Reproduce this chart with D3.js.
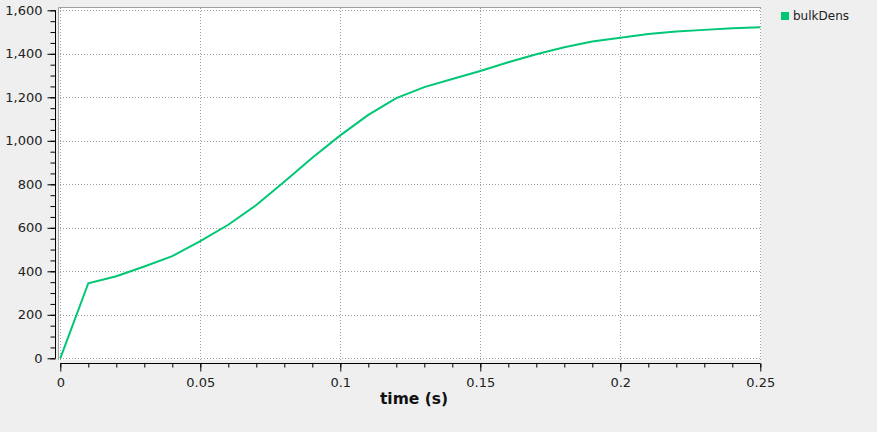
<!DOCTYPE html>
<html>
<head>
<meta charset="utf-8">
<script src="https://cdn.jsdelivr.net/npm/d3@7"></script>
<style>
  body { margin: 0; background: #efefef; }
  svg { display: block; font-family: "DejaVu Sans", sans-serif; }
</style>
</head>
<body>
<svg id="chart" width="877" height="432"></svg>
<script>
// data
const times = [0, 0.01, 0.02, 0.03, 0.04, 0.05, 0.06, 0.07, 0.08, 0.09, 0.10, 0.11, 0.12,
               0.13, 0.14, 0.15, 0.16, 0.17, 0.18, 0.19, 0.20, 0.21, 0.22, 0.23, 0.24, 0.25];
const bulkDens = [0, 345, 377, 422, 470, 539, 614, 705, 812, 922, 1025, 1119, 1196,
                  1247, 1284, 1321, 1361, 1398, 1430, 1457, 1474, 1491, 1503, 1510, 1517, 1522];
const xTicks = [0, 0.05, 0.1, 0.15, 0.2, 0.25];
const yTicks = [0, 200, 400, 600, 800, 1000, 1200, 1400, 1600];
const seriesName = "bulkDens";
const xTitle = "time (s)";

const svg = d3.select("#chart");
const x = d3.scaleLinear().domain([0, 0.25]).range([60.3, 760.3]);
const y = d3.scaleLinear().domain([0, 1600]).range([358.3, 10.3]);

// plot background + frame
svg.append("rect").attr("x", 58).attr("y", 7).attr("width", 703).attr("height", 353).attr("fill", "#fff");
svg.append("path").attr("d", "M58.5,360V7.5H761").attr("fill", "none").attr("stroke", "#a0a0a0");

// grid
const grid = svg.append("g").attr("stroke", "#a0a0a0").attr("stroke-dasharray", "1,2");
grid.selectAll(".gy").data(yTicks).enter().append("line")
  .attr("x1", 60).attr("x2", 761)
  .attr("y1", d => Math.round(y(d)) + 0.5).attr("y2", d => Math.round(y(d)) + 0.5);
grid.selectAll(".gx").data(xTicks).enter().append("line")
  .attr("y1", 8).attr("y2", 360)
  .attr("x1", d => Math.round(x(d)) + 0.5).attr("x2", d => Math.round(x(d)) + 0.5);

// y axis
const yAxis = svg.append("g").attr("transform", "translate(55.5,0)");
yAxis.call(d3.axisLeft(y).ticks(32).tickSize(5).tickFormat(""));
yAxis.call(g => g.select(".domain").remove());
const yMajor = svg.append("g").attr("transform", "translate(55.5,0)")
  .call(d3.axisLeft(y).tickValues(yTicks).tickSize(8).tickPadding(5).tickFormat(d3.format(",")));
[yAxis, yMajor].forEach(g => {
  g.selectAll(".tick line").attr("stroke", "#000");
  g.select(".domain").attr("stroke", "#000").attr("d", "M0," + y(1600) + "V" + y(0));
});
yMajor.selectAll("text").attr("font-size", 13).attr("fill", "#222").attr("font-family", "DejaVu Sans");

// x axis
const xAxis = svg.append("g").attr("transform", "translate(0,363.5)");
xAxis.call(d3.axisBottom(x).ticks(25).tickSize(4).tickFormat(""));
xAxis.call(g => g.select(".domain").remove());
const xMajor = svg.append("g").attr("transform", "translate(0,363.5)")
  .call(d3.axisBottom(x).tickValues(xTicks).tickSize(8).tickPadding(6).tickFormat(d3.format("")));
[xAxis, xMajor].forEach(g => {
  g.selectAll(".tick line").attr("stroke", "#000");
  g.select(".domain").attr("stroke", "#000").attr("d", "M" + x(0) + ",0H" + x(0.25));
});
xMajor.selectAll("text").attr("font-size", 13).attr("fill", "#222").attr("font-family", "DejaVu Sans");

svg.append("text").attr("x", 414).attr("y", 404).attr("text-anchor", "middle")
  .attr("font-size", 15.5).attr("font-weight", "bold").attr("fill", "#111").text(xTitle);

// series line
const line = d3.line().x((d, i) => x(times[i])).y(d => y(d));
svg.append("path").datum(bulkDens).attr("d", line)
  .attr("fill", "none").attr("stroke", "#00c775").attr("stroke-width", 2);

// legend
svg.append("rect").attr("x", 781).attr("y", 12).attr("width", 8).attr("height", 8).attr("fill", "#00c775");
svg.append("text").attr("x", 793).attr("y", 20).attr("font-size", 12).attr("fill", "#222").text(seriesName);
</script>
</body>
</html>
